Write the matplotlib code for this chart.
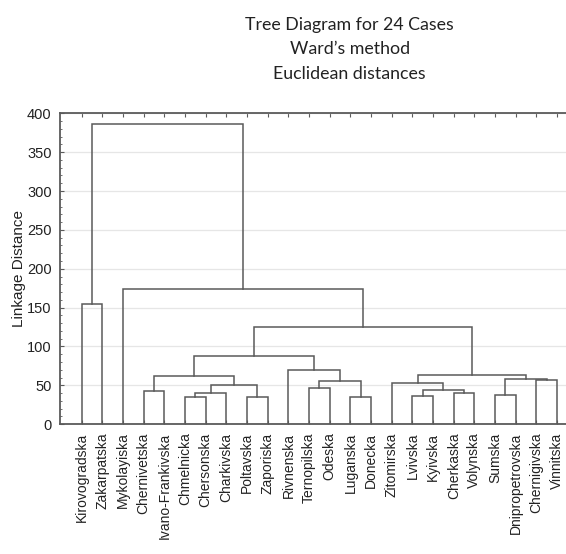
import matplotlib
matplotlib.use("Agg")
from matplotlib import pyplot as plt
from matplotlib.ticker import MultipleLocator

# leaves in the order they appear on the x axis
leaves = ["Kirovogradska", "Zakarpatska", "Mykolayiska", "Chernivetska",
          "Ivano-Frankivska", "Chmelnicka", "Chersonska", "Charkivska",
          "Poltavska", "Zaporiska", "Rivnenska", "Ternopilska", "Odeska",
          "Luganska", "Donecka", "Zitomirska", "Lvivska", "Kyivska",
          "Cherkaska", "Volynska", "Sumska", "Dnipropetrovska",
          "Chernigivska", "Vinnitska"]

# merges: (new cluster, left child, right child, linkage distance)
merges = [
    ("c1", "Chmelnicka", "Chersonska", 35.3),
    ("c2", "Poltavska", "Zaporiska", 34.9),
    ("c3", "Luganska", "Donecka", 35.1),
    ("c4", "Lvivska", "Kyivska", 36.5),
    ("c5", "Sumska", "Dnipropetrovska", 38.2),
    ("c6", "c1", "Charkivska", 39.8),
    ("c7", "Cherkaska", "Volynska", 39.5),
    ("c8", "Chernivetska", "Ivano-Frankivska", 42.9),
    ("c9", "c4", "c7", 43.9),
    ("c10", "Ternopilska", "Odeska", 47.2),
    ("c11", "c6", "c2", 50.5),
    ("c12", "Zitomirska", "c9", 53.6),
    ("c13", "c10", "c3", 55.2),
    ("c14", "Chernigivska", "Vinnitska", 56.7),
    ("c15", "c5", "c14", 58.4),
    ("c16", "c8", "c11", 62.3),
    ("c17", "c12", "c15", 62.9),
    ("c18", "Rivnenska", "c13", 69.3),
    ("c19", "c16", "c18", 87.8),
    ("c20", "c19", "c17", 124.7),
    ("c21", "Mykolayiska", "c20", 173.8),
    ("c22", "Kirovogradska", "Zakarpatska", 155.0),
    ("c23", "c22", "c21", 386.0),
]

title_lines = ["Tree Diagram for 24 Cases", "Ward\u2019s method", "Euclidean distances"]

line_col = "#5a5a5a"

fig = plt.figure(figsize=(5.66, 5.54), dpi=100)
ax = fig.add_axes([0.106, 0.2343, 0.894, 0.5612])

pos = {name: i + 1 for i, name in enumerate(leaves)}
hgt = {name: 0.0 for name in leaves}

for new, a, b, h in merges:
    xa, xb = pos[a], pos[b]
    ax.plot([xa, xa, xb, xb], [hgt[a], h, h, hgt[b]], color=line_col,
            lw=1.1, solid_joinstyle="miter", zorder=3)
    pos[new] = (xa + xb) / 2.0
    hgt[new] = h

ax.set_xlim(-0.05, 24.43)
ax.set_ylim(0, 400)
ax.set_xticks(range(1, len(leaves) + 1))
ax.set_xticklabels(leaves, rotation=90, fontsize=10,
                   family=["Liberation Sans", "DejaVu Sans"])
ax.yaxis.set_major_locator(MultipleLocator(50))
ax.yaxis.set_minor_locator(MultipleLocator(10))
for lbl in ax.get_yticklabels():
    lbl.set_family(["Liberation Sans Narrow", "Liberation Sans"])
    lbl.set_fontsize(10.5)
ax.tick_params(axis="y", which="major", direction="in", length=3,
               color=line_col, pad=6, labelcolor="#222222")
ax.tick_params(axis="y", which="minor", direction="in", length=1.5,
               color=line_col)
ax.tick_params(axis="x", direction="in", length=3, color=line_col,
               top=True, pad=6, labelcolor="#222222")

ax.grid(axis="y", color="#e6e6e6", lw=0.9, zorder=0)
ax.set_axisbelow(True)

for side in ["left", "top", "bottom"]:
    ax.spines[side].set_color(line_col)
    ax.spines[side].set_linewidth(1.3)
ax.spines["right"].set_visible(False)

ax.set_ylabel("Linkage Distance", fontsize=11, color="#222222",
              family=["Liberation Sans", "DejaVu Sans"], labelpad=1)

for i, t in enumerate(title_lines):
    fig.text(0.618, 1 - (25 + 24.5 * i) / 554, t, ha="center", va="center",
             fontsize=12.8, family=["Lato", "DejaVu Sans"], color="#222222")

fig.savefig("out.png", dpi=100)
